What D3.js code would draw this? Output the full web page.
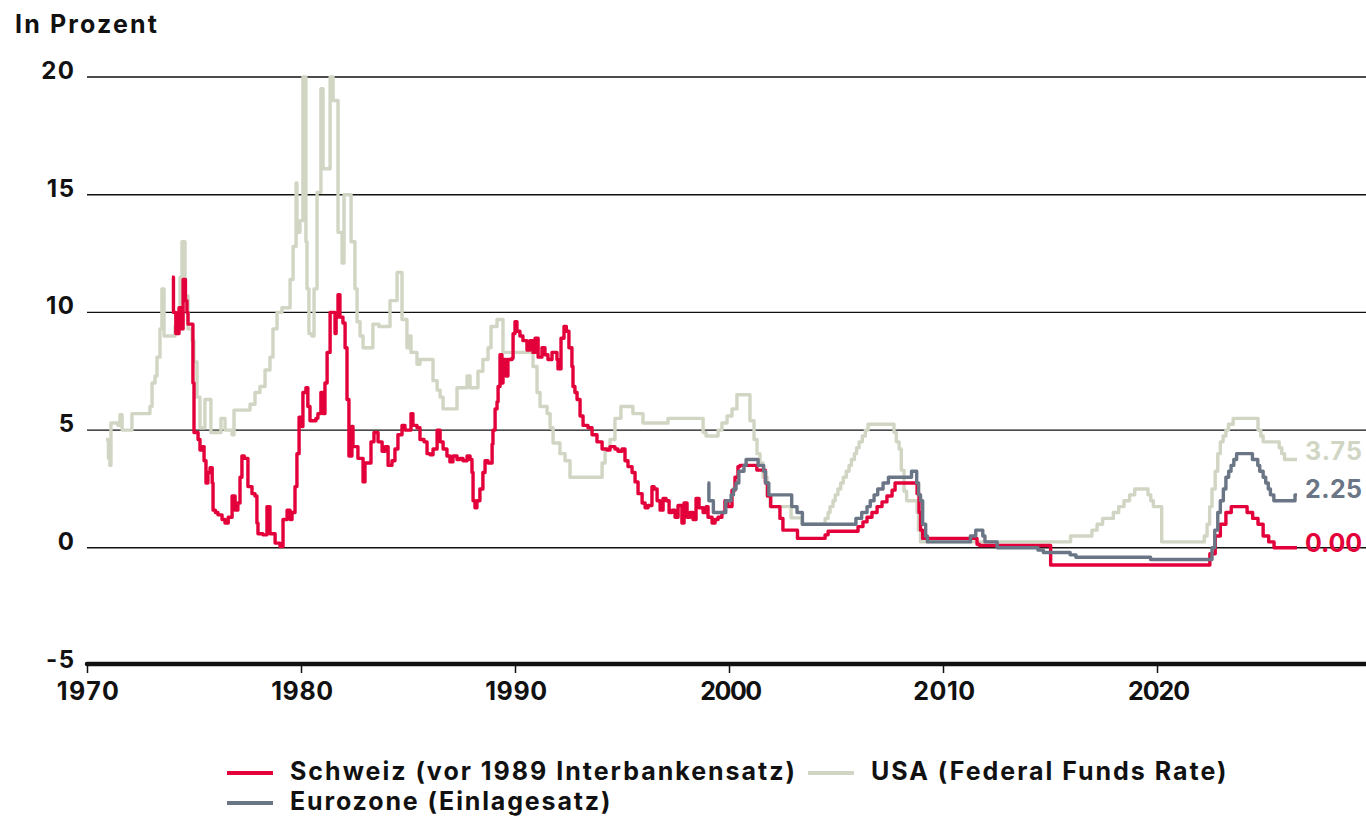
<!DOCTYPE html>
<html><head><meta charset="utf-8">
<script src="https://cdn.jsdelivr.net/npm/d3@7/dist/d3.min.js"></script>
<style>
body{margin:0;background:#fff}
text{font-family:Inter,"Noto Sans",sans-serif;font-weight:700;fill:#111}
</style>
</head><body>
<svg id="chart" width="1366" height="816"></svg>
<script>
// ---------- data ----------
const yTicks = [-5, 0, 5, 10, 15, 20];
const xTicks = [1970, 1980, 1990, 2000, 2010, 2020];
const yTitle = "In Prozent";
const seriesNames = ["Schweiz (vor 1989 Interbankensatz)", "USA (Federal Funds Rate)", "Eurozone (Einlagesatz)"];
const endLabels = ["0.00", "3.75", "2.25"];

const schweiz = [
[1973.97,11.5],[1974.04,10.0],[1974.15,9.1],[1974.30,10.2],[1974.38,9.3],[1974.49,11.4],[1974.60,10.5],[1974.67,10.0],[1974.72,9.5],[1974.95,7.0],[1975.00,4.9],
[1975.19,4.6],[1975.28,4.15],[1975.40,4.3],[1975.47,3.7],[1975.56,2.75],[1975.65,3.2],[1975.75,3.4],[1975.85,2.75],[1975.89,1.6],[1976.00,1.5],[1976.12,1.4],
[1976.31,1.2],[1976.45,1.05],[1976.60,1.3],[1976.78,2.2],[1976.92,1.6],[1977.05,1.9],[1977.15,3.0],[1977.24,3.9],[1977.35,3.8],[1977.52,2.6],[1977.71,2.3],
[1977.85,2.2],[1977.94,1.05],[1977.99,0.6],[1978.22,0.55],[1978.41,1.75],[1978.55,0.6],[1978.79,0.2],[1979.02,0.05],[1979.16,1.2],[1979.35,1.6],[1979.49,1.2],
[1979.58,1.5],[1979.72,2.6],[1979.81,4.0],[1979.91,5.55],[1980.05,5.15],[1980.09,6.6],[1980.23,6.8],[1980.32,6.0],[1980.42,5.4],[1980.70,5.5],[1980.79,5.7],
[1980.93,6.6],[1981.03,5.7],[1981.12,7.0],[1981.22,8.3],[1981.36,10.0],[1981.59,9.1],[1981.64,9.8],[1981.73,10.75],[1981.82,9.8],[1981.96,9.55],[1982.06,8.5],
[1982.15,6.3],[1982.24,3.9],[1982.38,5.15],[1982.43,4.3],[1982.66,3.8],[1982.90,2.8],[1982.99,3.6],[1983.27,4.5],[1983.41,4.9],[1983.60,4.5],[1983.79,4.1],
[1983.93,4.3],[1984.07,3.5],[1984.25,3.7],[1984.39,4.2],[1984.53,4.8],[1984.72,5.2],[1984.86,5.0],[1985.14,5.7],[1985.23,5.2],[1985.42,5.1],[1985.56,4.6],
[1985.75,4.5],[1985.89,4.0],[1986.03,3.95],[1986.17,4.2],[1986.36,5.0],[1986.50,4.5],[1986.64,4.2],[1986.82,3.9],[1986.96,3.65],[1987.10,3.9],[1987.29,3.75],
[1987.43,3.8],[1987.57,3.7],[1987.76,3.9],[1987.90,3.75],[1987.99,3.2],[1988.04,2.0],[1988.13,1.7],[1988.22,2.0],[1988.36,2.5],[1988.50,3.2],[1988.60,3.7],
[1988.74,3.6],[1988.93,4.4],[1988.97,5.0],[1989.07,5.9],[1989.16,6.2],[1989.21,6.85],[1989.30,8.2],[1989.39,7.0],[1989.44,8.0],[1989.58,7.3],[1989.67,8.0],
[1989.86,8.05],[1989.91,9.1],[1990.00,9.6],[1990.09,9.2],[1990.23,9.0],[1990.37,8.8],[1990.56,8.4],[1990.70,8.8],[1990.84,8.3],[1990.94,8.9],[1991.08,8.1],
[1991.26,8.5],[1991.40,8.2],[1991.54,8.0],[1991.73,8.3],[1991.96,8.0],[1992.01,7.6],[1992.15,8.9],[1992.29,9.4],[1992.40,9.2],[1992.52,8.5],[1992.66,7.7],
[1992.71,6.85],[1992.80,6.6],[1992.90,6.3],[1993.04,5.6],[1993.18,5.2],[1993.41,5.1],[1993.60,4.8],[1993.83,4.5],[1994.07,4.2],[1994.30,4.15],[1994.44,4.3],
[1994.67,4.2],[1994.81,4.1],[1995.00,4.2],[1995.14,3.7],[1995.28,3.45],[1995.47,3.2],[1995.61,2.8],[1995.75,2.3],[1995.94,1.9],[1996.08,1.7],[1996.22,1.8],
[1996.40,2.6],[1996.50,2.5],[1996.64,2.0],[1996.78,1.6],[1996.92,2.1],[1997.06,2.0],[1997.20,1.5],[1997.34,1.6],[1997.48,1.3],[1997.62,1.8],[1997.80,1.05],
[1997.90,1.9],[1998.04,1.3],[1998.18,1.5],[1998.32,1.2],[1998.46,2.1],[1998.60,1.7],[1998.79,1.5],[1998.93,1.75],[1999.02,1.3],[1999.21,1.05],[1999.35,1.2],
[1999.49,1.3],[1999.67,1.5],[1999.81,2.0],[1999.95,1.75],[2000.14,2.45],[2000.28,3.0],[2000.42,3.45],[2000.51,3.5],[2001.30,3.3],[2001.70,2.75],[2001.80,2.2],
[2001.95,1.75],[2002.38,1.25],[2002.52,0.75],[2003.20,0.4],[2004.49,0.55],[2004.63,0.7],[2006.03,0.9],[2006.26,1.1],[2006.45,1.3],[2006.68,1.5],[2006.92,1.75],
[2007.15,1.95],[2007.38,2.2],[2007.62,2.45],[2007.76,2.75],[2008.79,2.3],[2008.88,1.5],[2008.95,0.75],[2009.05,0.4],[2011.59,0.15],[2011.70,0.1],[2015.03,-0.73],
[2022.47,-0.25],[2022.72,0.5],[2022.96,1.0],[2023.22,1.5],[2023.47,1.75],[2024.21,1.5],[2024.47,1.25],[2024.72,1.0],[2024.96,0.5],[2025.22,0.25],[2025.47,0.0],
[2026.54,0.0]
];

const usa = [
[1970.89,4.6],[1971.00,3.8],[1971.07,3.5],[1971.12,5.3],[1971.45,5.2],[1971.54,5.65],[1971.64,5.0],[1972.10,5.7],[1972.94,6.0],[1973.04,7.0],[1973.18,7.3],
[1973.27,8.1],[1973.41,9.3],[1973.50,11.0],[1973.60,9.0],[1974.11,9.4],[1974.25,10.0],[1974.35,11.5],[1974.44,13.0],[1974.58,10.7],[1974.72,9.3],[1974.91,8.8],
[1975.00,7.9],[1975.14,6.4],[1975.28,5.1],[1975.51,6.3],[1975.79,4.9],[1976.26,5.5],[1976.45,5.0],[1976.78,4.8],[1976.87,5.85],[1977.62,6.1],[1977.85,6.6],
[1978.08,6.85],[1978.32,7.55],[1978.55,8.1],[1978.69,9.3],[1978.88,10.0],[1979.11,10.2],[1979.49,11.4],[1979.63,12.8],[1979.77,15.5],[1979.81,13.4],
[1979.95,13.9],[1980.09,20.0],[1980.23,13.0],[1980.28,11.0],[1980.37,9.1],[1980.51,9.0],[1980.61,11.0],[1980.75,15.1],[1980.93,19.5],[1981.03,16.1],
[1981.36,20.0],[1981.50,19.0],[1981.73,13.4],[1981.92,12.1],[1982.01,15.0],[1982.34,13.0],[1982.52,11.0],[1982.62,9.6],[1982.76,9.0],[1982.90,8.5],
[1983.36,9.5],[1983.64,9.4],[1984.16,10.5],[1984.49,11.7],[1984.72,9.7],[1984.95,8.5],[1985.05,9.0],[1985.14,8.3],[1985.42,7.8],[1985.56,8.0],[1986.17,7.1],
[1986.36,6.7],[1986.50,6.4],[1986.64,5.9],[1987.29,6.8],[1987.76,7.3],[1987.90,6.8],[1988.27,7.5],[1988.50,8.0],[1988.74,8.5],[1988.88,9.4],[1989.16,9.7],
[1989.44,8.3],[1990.84,7.7],[1991.03,6.6],[1991.17,6.0],[1991.50,5.7],[1991.64,5.1],[1991.78,4.45],[1992.10,4.0],[1992.34,3.7],[1992.57,3.0],[1994.07,3.6],
[1994.21,4.2],[1994.44,4.6],[1994.67,5.5],[1994.95,6.0],[1995.51,5.7],[1995.98,5.3],[1997.15,5.5],[1998.79,4.9],[1998.93,4.75],[1999.49,5.0],[1999.67,5.3],
[1999.91,5.6],[2000.14,5.9],[2000.37,6.5],[2000.98,5.4],[2001.17,4.6],[2001.31,4.0],[2001.45,3.6],[2001.59,3.0],[2001.78,2.2],[2001.92,1.75],[2002.90,1.27],
[2003.41,1.0],[2004.49,1.25],[2004.63,1.5],[2004.72,1.75],[2004.86,2.0],[2004.96,2.25],[2005.09,2.5],[2005.22,2.75],[2005.34,3.0],[2005.48,3.25],[2005.61,3.5],
[2005.72,3.75],[2005.86,4.0],[2005.96,4.25],[2006.08,4.5],[2006.23,4.75],[2006.37,5.0],[2006.50,5.25],[2007.71,4.9],[2007.82,4.5],[2007.95,4.2],[2008.05,3.3],
[2008.18,2.4],[2008.30,2.0],[2008.79,1.5],[2008.85,0.75],[2008.95,0.25],[2015.96,0.5],[2016.96,0.75],[2017.20,1.0],[2017.46,1.25],[2017.96,1.5],[2018.21,1.75],
[2018.46,2.0],[2018.72,2.25],[2018.96,2.5],[2019.58,2.25],[2019.71,2.0],[2019.83,1.75],[2020.22,0.25],[2022.21,0.5],[2022.34,1.0],[2022.46,1.75],[2022.57,2.5],
[2022.72,3.25],[2022.84,4.0],[2022.96,4.5],[2023.09,4.75],[2023.22,5.0],[2023.34,5.25],[2023.56,5.5],[2024.72,5.0],[2024.85,4.75],[2024.96,4.5],[2025.71,4.25],
[2025.83,4.0],[2025.96,3.75],[2026.54,3.75]
];

const eurozone = [
[1999.00,2.75],[1999.06,2.0],[1999.27,1.5],[1999.85,2.0],[2000.10,2.25],[2000.21,2.5],[2000.33,2.75],[2000.46,3.25],[2000.70,3.5],[2000.80,3.75],[2001.36,3.5],
[2001.62,3.25],[2001.71,2.75],[2001.86,2.25],[2002.93,1.75],[2003.18,1.5],[2003.43,1.0],[2005.93,1.25],[2006.20,1.5],[2006.45,1.75],[2006.60,2.0],[2006.78,2.25],
[2006.95,2.5],[2007.20,2.75],[2007.45,3.0],[2008.53,3.25],[2008.77,2.75],[2008.86,2.25],[2008.95,2.0],[2009.05,1.0],[2009.19,0.5],[2009.27,0.25],[2011.28,0.5],
[2011.53,0.75],[2011.86,0.5],[2011.96,0.25],[2012.53,0.0],[2014.44,-0.1],[2014.69,-0.2],[2015.94,-0.3],[2016.21,-0.4],[2019.70,-0.5],[2022.57,0.0],[2022.70,0.75],
[2022.84,1.5],[2022.96,2.0],[2023.10,2.5],[2023.22,3.0],[2023.35,3.25],[2023.46,3.5],[2023.59,3.75],[2023.72,4.0],[2024.46,3.75],[2024.71,3.5],[2024.80,3.25],
[2024.96,3.0],[2025.08,2.75],[2025.20,2.5],[2025.30,2.25],[2025.46,2.0],[2026.45,2.25],[2026.54,2.25]
];

const colors = {ch: "#e3003a", us: "#d0d6c3", eu: "#6a7685"};

// spread a text's letters so that it reaches a target width
function fit(sel, target) {
  sel.each(function (d) {
    const t = typeof target === "function" ? target(d) : target;
    const n = this.textContent.length;
    const w = this.getComputedTextLength();
    if (n > 1) d3.select(this).style("letter-spacing", ((t - w) / (n - 1)) + "px");
  });
}

// ---------- chart ----------
const svg = d3.select("#chart");
const x = d3.scaleLinear().domain([1970, 2030]).range([87, 1371]);
const y = d3.scaleLinear().domain([-5, 20]).range([665.5, 77]);

// title
svg.append("text").attr("x", 15).attr("y", 33).style("font-size", "25px").text(yTitle).call(fit, 142);

// gridlines
svg.append("g").selectAll("line").data(yTicks.filter(d => d > -5)).join("line")
  .attr("x1", 87).attr("x2", 1366)
  .attr("y1", d => y(d)).attr("y2", d => y(d))
  .attr("stroke", "#111").attr("stroke-width", 1.4);

// y labels
svg.append("g").selectAll("text").data(yTicks).join("text")
  .attr("x", 74).attr("y", d => y(d) + 2).attr("text-anchor", "end")
  .style("font-size", "24px").style("letter-spacing", "1.5px").text(d => d)
  .attr("dx", 1.5);

// x axis
const xAxis = d3.axisBottom(x).tickValues(xTicks).tickFormat(d3.format("d")).tickSize(9).tickPadding(9);
const gx = svg.append("g").attr("transform", `translate(0,${y(-5) - 1.5})`).call(xAxis);
gx.select(".domain").remove();
gx.selectAll(".tick line").attr("stroke", "#111").attr("stroke-width", 1.5);
gx.selectAll(".tick text").style("font-size", "25px").style("font-family", "Inter,'Noto Sans',sans-serif")
  .style("font-weight", 700).attr("fill", "#111").call(fit, 62).attr("dx", 1);
svg.append("line").attr("x1", x(1970)).attr("x2", 1366).attr("y1", y(-5) - 1.5).attr("y2", y(-5) - 1.5)
  .attr("stroke", "#111").attr("stroke-width", 4.5).attr("stroke-linecap", "round");

// lines
const line = d3.line().x(d => x(d[0])).y(d => y(d[1])).curve(d3.curveStepAfter);
const drawOrder = [[usa, colors.us], [schweiz, colors.ch], [eurozone, colors.eu]];
svg.append("g").selectAll("path").data(drawOrder).join("path")
  .attr("d", d => line(d[0])).attr("fill", "none").attr("stroke", d => d[1])
  .attr("stroke-width", 3.4).attr("stroke-linejoin", "round");

// end labels
const ends = [[schweiz, colors.ch, endLabels[0], 4], [usa, colors.us, endLabels[1], 0], [eurozone, colors.eu, endLabels[2], 3]];
svg.append("g").selectAll("text").data(ends).join("text")
  .attr("x", 1305).attr("y", d => y(d[0][d[0].length - 1][1]) + d[3])
  .style("font-size", "25px").style("fill", d => d[1]).text(d => d[2]).call(fit, 57);

// legend
const legendItems = [
  {name: seriesNames[0], color: colors.ch, lx: 227, ly: 773, w: 505},
  {name: seriesNames[1], color: colors.us, lx: 808, ly: 773, w: 355},
  {name: seriesNames[2], color: colors.eu, lx: 227, ly: 803, w: 320}
];
const lg = svg.append("g").selectAll("g").data(legendItems).join("g")
  .attr("transform", d => `translate(${d.lx},${d.ly})`);
lg.append("line").attr("x1", 0).attr("x2", 46).attr("stroke", d => d.color).attr("stroke-width", 4);
lg.append("text").attr("x", 63).attr("y", 7).style("font-size", "25px").text(d => d.name).call(fit, d => d.w);
</script>
</body></html>
